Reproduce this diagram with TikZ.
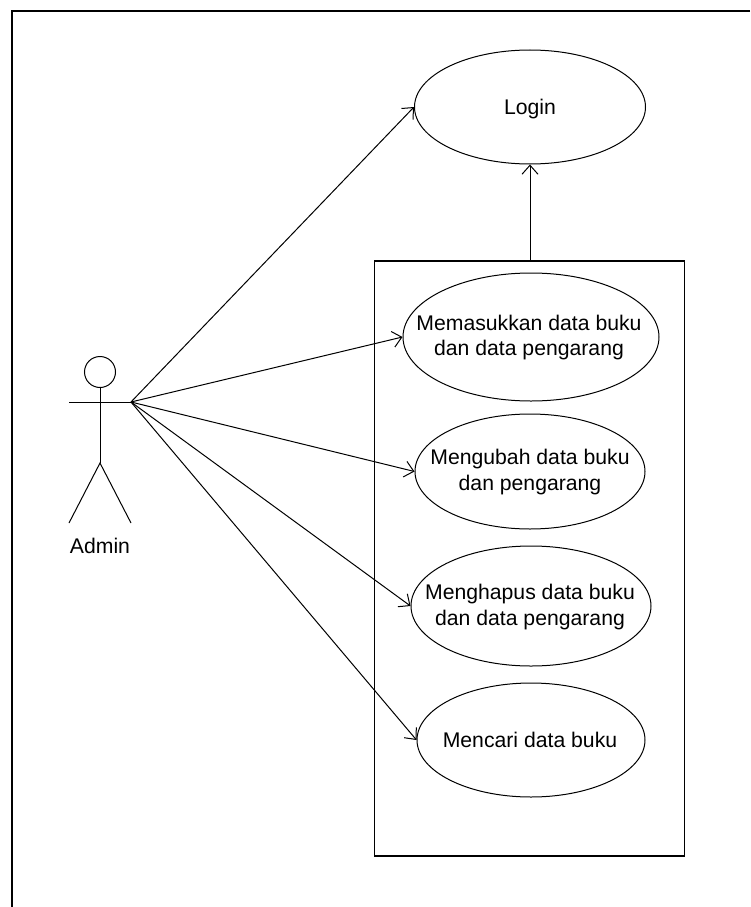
\documentclass[tikz,border=0pt]{standalone}
\usepackage{fontspec}
\setmainfont{Liberation Sans}
\usetikzlibrary{shapes.geometric,arrows.meta}
\tikzset{
  usecase/.style={draw=black,ellipse,inner sep=0pt,line width=1pt},
  casetext/.style={align=center,inner sep=0pt,font=\fontsize{21.2}{25.5}\selectfont},
  assoc/.style={draw=black,line width=1pt,-{Straight Barb[length=9pt,width=16pt,line width=1pt]}},
  limb/.style={draw=black,line width=1pt},
  frameline/.style={draw=black,line width=1.6pt},
}
\begin{document}
\begin{tikzpicture}[x=1pt,y=-1pt]
\useasboundingbox (0,0) rectangle (750,907);
\draw[frameline] (750,11) -- (12,11) -- (12,907);
\node[draw=black,line width=1.6pt,minimum width=310pt,minimum height=595pt,inner sep=0pt] (system) at (529.5,558.5) {};
\node[usecase,minimum width=231pt,minimum height=114pt] (login) at (530,107) {};
\node[usecase,minimum width=256pt,minimum height=128pt] (add) at (531,337) {};
\node[usecase,minimum width=230pt,minimum height=115pt] (edit) at (530,471.5) {};
\node[usecase,minimum width=240pt,minimum height=120pt] (del) at (531,606) {};
\node[usecase,minimum width=228pt,minimum height=114pt] (find) at (531,740) {};
\node[casetext] (logintext) at (530,109) {Login};
\node[casetext] (addtext) at (529,337.5) {Memasukkan data buku\\dan data pengarang};
\node[casetext] (edittext) at (530,472) {Mengubah data buku\\dan pengarang};
\node[casetext] (deltext) at (530,607) {Menghapus data buku\\dan data pengarang};
\node[casetext] (findtext) at (530,739.5) {Mencari data buku};
\node[draw=black,circle,line width=1pt,minimum size=31pt,inner sep=0pt] (head) at (100,372) {};
\coordinate (hip) at (100,463);
\coordinate (handL) at (69,402);
\coordinate (handR) at (131,402);
\coordinate (footL) at (69,523);
\coordinate (footR) at (131,523);
\draw[limb] (head.south) -- (hip);
\draw[limb] (handL) -- (handR);
\draw[limb] (footL) -- (hip) -- (footR);
\node[font=\fontsize{21.2}{25}\selectfont,inner sep=0pt] (admin) at (100,546) {Admin};
\draw[assoc] (handR) -- (login.west);
\draw[assoc] (handR) -- (add.west);
\draw[assoc] (handR) -- (edit.west);
\draw[assoc] (handR) -- (del.west);
\draw[assoc] (handR) -- (find.west);
\draw[assoc] (login.south |- system.north) -- (login.south);
\end{tikzpicture}
\end{document}
